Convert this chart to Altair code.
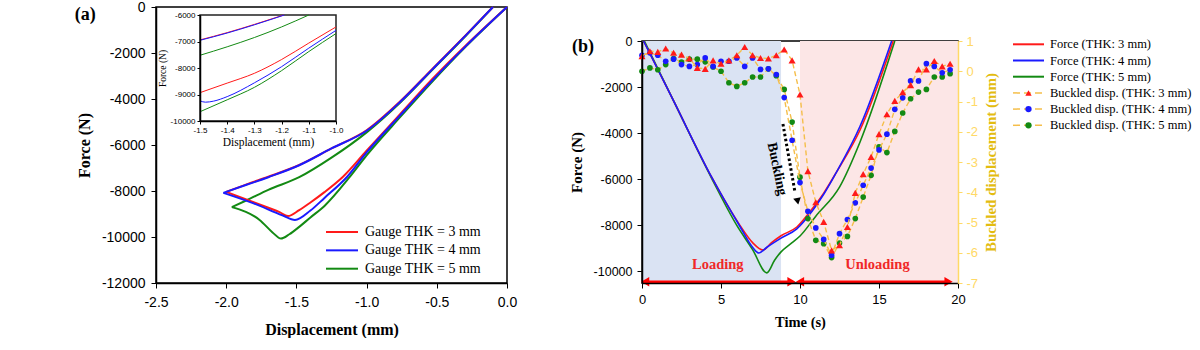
import altair as alt
import pandas as pd

SERIF = "Liberation Serif"
SANS = "Liberation Sans"
RED, BLUE, GREEN = "#FF1A1A", "#1A1AFF", "#138A13"
GOLD_LINE = "#F5BE4A"
GOLD_AXIS = "#FFD966"
GOLD_TITLE = "#E3BC10"

# ---------------- panel (a): force vs displacement loops ----------------
A_LABELS = ["Gauge THK = 3 mm", "Gauge THK = 4 mm", "Gauge THK = 5 mm"]
A_COLORS = [RED, BLUE, GREEN]

A3_LO_D = [0, -0.29, -0.53, -0.76, -1.0, -1.17, -1.3, -1.4, -1.48, -1.56, -1.62, -1.8, -2.0]
A3_LO_F = [0, -1650, -3120, -4650, -6250, -7390, -8050, -8500, -8830, -9090, -8920, -8500, -8040]
A3_UP_D = [-2.0, -1.85, -1.7, -1.48, -1.25, -1.0, -0.76, -0.53, -0.29, -0.1]
A3_UP_F = [-8040, -7700, -7380, -6870, -6150, -5360, -4100, -2680, -1200, 0]

A4_LO_D = [0, -0.29, -0.53, -0.76, -1.0, -1.14, -1.3, -1.4, -1.51, -1.6, -1.8, -2.02]
A4_LO_F = [0, -1680, -3180, -4700, -6320, -7390, -8300, -8850, -9260, -9060, -8550, -8080]
A4_UP_D = [-2.02, -1.85, -1.7, -1.48, -1.25, -1.0, -0.76, -0.53, -0.29, -0.1]
A4_UP_F = [-8080, -7720, -7400, -6880, -6150, -5380, -4120, -2700, -1210, 0]

A5_LO_D = [0, -0.29, -0.53, -0.76, -1.0, -1.12, -1.3, -1.4, -1.48, -1.55, -1.61, -1.67, -1.76, -1.96]
A5_LO_F = [0, -1700, -3230, -4780, -6450, -7390, -8650, -9150, -9560, -9880, -10070, -9800, -9270, -8700]
A5_UP_D = [-1.96, -1.85, -1.7, -1.48, -1.25, -1.0, -0.76, -0.53, -0.29, -0.1]
A5_UP_F = [-8700, -8390, -7950, -7400, -6550, -5450, -4150, -2720, -1230, 0]

# inset (zoom of -1.5 .. -1.0 mm)
I3_LO_D = [-1.5, -1.4, -1.3, -1.2, -1.1, -1.0]
I3_LO_F = [-8930, -8570, -8200, -7680, -7060, -6450]
I4_LO_D = [-1.5, -1.48, -1.45, -1.4, -1.3, -1.2, -1.1, -1.0]
I4_LO_F = [-9240, -9290, -9250, -9080, -8560, -7950, -7250, -6580]
I5_LO_D = [-1.5, -1.4, -1.3, -1.2, -1.1, -1.0]
I5_LO_F = [-9650, -9200, -8730, -8100, -7380, -6700]
I3_UP_D = [-1.5, -1.4, -1.3, -1.192]
I3_UP_F = [-6940, -6665, -6355, -6000]
I4_UP_D = [-1.5, -1.4, -1.3, -1.19]
I4_UP_F = [-6955, -6680, -6370, -6000]
I5_UP_D = [-1.5, -1.4, -1.3, -1.2, -1.1]
I5_UP_F = [-7520, -7200, -6850, -6450, -6000]

# ---------------- panel (b): force & buckled displacement vs time ----------------
B3_T = [0.1, 2.0, 4.4, 6.2, 7.0, 7.66, 8.2, 8.8, 9.8, 10.75, 11.5, 12.3, 13.8, 15.9]
B3_F = [0, -2600, -5900, -8000, -8750, -9070, -8750, -8450, -8070, -7300, -6600, -5700, -3860, 0]
B4_T = [0.1, 2.0, 4.4, 6.2, 7.0, 7.4, 7.9, 8.8, 9.8, 10.75, 11.5, 12.3, 13.8, 15.8]
B4_F = [0, -2600, -5900, -8050, -8950, -9200, -8950, -8550, -8150, -7400, -6650, -5700, -3700, 0]
B5_T = [0.15, 2.0, 4.4, 6.0, 7.0, 7.9, 8.4, 8.8, 9.5, 10.0, 11.0, 12.5, 13.8, 16.0]
B5_F = [0, -2600, -5950, -8000, -9050, -10060, -9500, -9150, -8750, -8460, -7600, -6340, -4380, 0]

BD_T = [0, 0.5, 1, 1.5, 2, 2.5, 3, 3.5, 4, 4.5, 5, 5.5, 6, 6.5, 7, 7.5, 8, 8.5, 9, 9.5,
        10, 10.5, 11, 11.5, 12, 12.5, 13, 13.5, 14, 14.5, 15, 15.5, 16, 16.5, 17, 17.5, 18, 18.5, 19, 19.5]
BD3 = [0.5, 0.66, 0.64, 0.75, 0.61, 0.55, 0.42, 0.11, 0.08, 0.36, 0.25, 0.36, 0.53, 0.80, 0.53, 0.44, 0.42, 0.53, 0.72, 0.36,
       -0.77, -3.3, -4.33, -4.98, -5.92, -5.75, -5.15, -4.02, -3.4, -2.83, -2.08, -1.42, -0.98, -0.69, -0.46, 0.06, 0.06, 0.34, 0.16, 0.25]
BD4 = [0.53, 0.61, 0.53, 0.33, 0.40, 0.22, 0.16, 0.22, 0.44, 0.16, 0.33, 0.33, 0.44, 0.16, 0.44, 0.06, 0.08, -0.11, -0.87, -2.28,
       -3.68, -4.63, -5.18, -5.56, -6.08, -5.37, -4.9, -4.35, -3.77, -3.2, -2.6, -2.08, -1.26, -0.88, -0.32, -0.32, 0.25, 0.16, -0.05, 0.05]
BD5 = [0.0, 0.11, 0.05, 0.22, 0.42, 0.30, 0.40, 0.40, 0.31, 0.14, 0.0, -0.38, -0.5, -0.38, -0.19, -0.19, 0.08, -0.15, -0.6, -1.68,
       -3.5, -4.87, -5.59, -5.7, -6.16, -5.68, -5.46, -4.87, -4.16, -3.44, -2.5, -2.69, -1.99, -1.38, -0.91, -0.69, -0.6, -0.19, -0.19, -0.08]

SHADE_T0 = [0, 10]
SHADE_T1 = [8.8, 20]
SHADE_COLORS = ["#DAE3F3", "#FCE6E6"]

PHASE_LABELS = ["Loading", "Unloading"]
PHASE_T = [4.8, 14.9]
PHASE_F = [-9720, -9720]
ARROW_T0 = [0.2, 10.0]
ARROW_T1 = [9.46, 19.4]
ARROW_HEAD_T = [0.2, 9.46, 10.0, 19.4]
ARROW_HEAD_SHAPE = ["triangle-left", "triangle-right", "triangle-left", "triangle-right"]
ARROW_F = -10450

BUCK_TEXT_T, BUCK_TEXT_F = 8.54, -5554
BUCK_ARROW_T = [8.92, 9.68]
BUCK_ARROW_F = [-3600, -6550]
BUCK_HEAD_T, BUCK_HEAD_F = 9.85, -6950

# panel tags, placed in each panel's data coordinates (left of the y axis)
TAG_A = ("(a)", -3.079, -350)
TAG_B = ("(b)", -4.43, -260)

LEG_B = ["Force (THK: 3 mm)", "Force (THK: 4 mm)", "Force (THK: 5 mm)",
         "Buckled disp. (THK: 3 mm)", "Buckled disp. (THK: 4 mm)", "Buckled disp. (THK: 5 mm)"]

NEG_INT = "(datum.value < 0 ? '-' : '') + format(abs(datum.value), 'd')"
NEG_1F = "(datum.value < 0 ? '-' : '') + format(abs(datum.value), '.1f')"


def axis(**kw):
    base = dict(grid=False, domainColor="black", tickColor="black", labelColor="black",
                titleColor="black", labelFont=SANS, titleFont=SERIF, titleFontWeight="bold",
                labelFlush=False, labelOverlap=False, zindex=1, domainWidth=1.5, tickWidth=1)
    base.update(kw)
    return alt.Axis(**base)


def tag_text(tag, xs, ys, ax_x, ax_y, xfield):
    df = pd.DataFrame({xfield: [tag[1]], "f": [tag[2]], "label": [tag[0]]})
    return alt.Chart(df).mark_text(align="left", baseline="middle", font=SERIF, fontSize=18,
                                   fontWeight="bold", color="black").encode(
        x=alt.X(f"{xfield}:Q", scale=xs, axis=ax_x), y=alt.Y("f:Q", scale=ys, axis=ax_y), text="label:N")


# ======== panel (a) ========
AW, AH = 351, 276
XA = alt.Scale(domain=[-2.5, 0], nice=False, zero=False)
YA = alt.Scale(domain=[-12000, 0], nice=False, zero=False)
AX_AX = axis(title="Displacement (mm)", values=[-2.5, -2.0, -1.5, -1.0, -0.5, 0.0], labelExpr=NEG_1F,
             labelFontSize=14, titleFontSize=16, tickSize=5, labelPadding=7, titlePadding=12)
AX_AY = axis(title="Force (N)", values=[-12000, -10000, -8000, -6000, -4000, -2000, 0], labelExpr=NEG_INT,
             labelFontSize=14, titleFontSize=16, tickSize=5, labelPadding=6, titlePadding=9)


def loop_df(lo_d, lo_f, up_d, up_f):
    return pd.DataFrame({"d": lo_d + up_d, "f": lo_f + up_f,
                         "part": ["lo"] * len(lo_d) + ["up"] * len(up_d)})


def a_line(df, color, xs, ys, ax_x, ax_y, width):
    return alt.Chart(df).mark_line(color=color, strokeWidth=width, interpolate="monotone").encode(
        x=alt.X("d:Q", scale=xs, axis=ax_x), y=alt.Y("f:Q", scale=ys, axis=ax_y), detail="part:N")


main_a = alt.layer(
    a_line(loop_df(A5_LO_D, A5_LO_F, A5_UP_D, A5_UP_F), GREEN, XA, YA, AX_AX, AX_AY, 2),
    a_line(loop_df(A3_LO_D, A3_LO_F, A3_UP_D, A3_UP_F), RED, XA, YA, AX_AX, AX_AY, 2),
    a_line(loop_df(A4_LO_D, A4_LO_F, A4_UP_D, A4_UP_F), BLUE, XA, YA, AX_AX, AX_AY, 2),
    tag_text(TAG_A, XA, YA, AX_AX, AX_AY, "d"),
)

XI = alt.Scale(domain=[-1.5, -1.0], range=[44, 180], nice=False, zero=False)
YI = alt.Scale(domain=[-10000, -6000], range=[114, 8], nice=False, zero=False)
AX_IX = axis(title="Displacement (mm)", orient="bottom", offset=-162,
             values=[-1.5, -1.4, -1.3, -1.2, -1.1, -1.0], labelExpr=NEG_1F,
             labelFontSize=8, titleFontSize=11.5, titleFontWeight="normal", tickSize=3,
             labelPadding=2, titlePadding=2)
AX_IY = axis(title="Force (N)", orient="left", offset=-44,
             values=[-10000, -9000, -8000, -7000, -6000], labelExpr=NEG_INT,
             labelFontSize=8, titleFontSize=9.5, titleFontWeight="normal", tickSize=3,
             labelPadding=2, titlePadding=3)

frame_df = pd.DataFrame({"d0": [-1.5], "d1": [-1.0], "f0": [-10000], "f1": [-6000]})
inset_frame = alt.Chart(frame_df).mark_rect(fill="white", stroke="#222222", strokeWidth=1.5).encode(
    x=alt.X("d0:Q", scale=XI, axis=AX_IX), x2="d1:Q",
    y=alt.Y("f0:Q", scale=YI, axis=AX_IY), y2="f1:Q")

inset_a = alt.layer(
    inset_frame,
    a_line(loop_df(I5_LO_D, I5_LO_F, I5_UP_D, I5_UP_F), GREEN, XI, YI, AX_IX, AX_IY, 1),
    a_line(loop_df(I3_LO_D, I3_LO_F, I3_UP_D, I3_UP_F), RED, XI, YI, AX_IX, AX_IY, 1),
    a_line(loop_df(I4_LO_D, I4_LO_F, I4_UP_D, I4_UP_F), BLUE, XI, YI, AX_IX, AX_IY, 1),
)

leg_a_df = pd.DataFrame({"label": A_LABELS, "x0": [0, 0, 0], "x1": [1, 1, 1], "c": A_COLORS})
LXA = alt.Scale(domain=[0, 1], range=[170, 202], nice=False, zero=False)
LYA = alt.Scale(type="point", domain=A_LABELS, range=[225, 261.7], padding=0)
legend_a = alt.layer(
    alt.Chart(leg_a_df).mark_rule(strokeWidth=2).encode(
        x=alt.X("x0:Q", scale=LXA, axis=None), x2="x1:Q",
        y=alt.Y("label:N", scale=LYA, axis=None), color=alt.Color("c:N", scale=None)),
    alt.Chart(leg_a_df).mark_text(align="left", baseline="middle", dx=7, font=SERIF, fontSize=14,
                                  color="black").encode(
        x=alt.X("x1:Q", scale=LXA, axis=None), y=alt.Y("label:N", scale=LYA, axis=None), text="label:N"),
)

panel_a = alt.layer(main_a, inset_a, legend_a).resolve_scale(
    x="independent", y="independent").properties(width=AW, height=AH)

# ======== panel (b) ========
BW, BH = 316, 242
XB = alt.Scale(domain=[0, 20], nice=False, zero=False)
YB = alt.Scale(domain=[-10500, 0], nice=False, zero=False)
YB2 = alt.Scale(domain=[-7, 1], nice=False, zero=False)
AX_BX = axis(title="Time (s)", values=[0, 5, 10, 15, 20], labelFontSize=13, titleFontSize=14.5,
             tickSize=5, labelPadding=5, titlePadding=9)
AX_BY = axis(title="Force (N)", values=[-10000, -8000, -6000, -4000, -2000, 0], labelExpr=NEG_INT,
             labelFontSize=12.5, titleFontSize=15, tickSize=5, labelPadding=5, titlePadding=9)
AX_BR = axis(title="Buckled displacement (mm)", orient="right", values=[-7, -6, -5, -4, -3, -2, -1, 0, 1],
             labelExpr=NEG_INT, domainColor=GOLD_AXIS, tickColor=GOLD_AXIS, labelColor=GOLD_AXIS,
             titleColor=GOLD_TITLE, labelFontSize=13, titleFontSize=15, tickSize=4, labelPadding=4,
             titlePadding=6, titleAngle=270, titleAlign="center", titleBaseline="top")

shade_df = pd.DataFrame({"t0": SHADE_T0, "t1": SHADE_T1, "f0": [-10500, -10500], "f1": [0, 0], "c": SHADE_COLORS})
shade = alt.Chart(shade_df).mark_rect().encode(
    x=alt.X("t0:Q", scale=XB, axis=AX_BX), x2="t1:Q",
    y=alt.Y("f0:Q", scale=YB, axis=AX_BY), y2="f1:Q", color=alt.Color("c:N", scale=None))


def b_force(ts, fs, color):
    df = pd.DataFrame({"t": ts, "f": fs})
    return alt.Chart(df).mark_line(color=color, strokeWidth=1.6, interpolate="monotone").encode(
        x=alt.X("t:Q", scale=XB, axis=AX_BX), y=alt.Y("f:Q", scale=YB, axis=AX_BY))


arrow_df = pd.DataFrame({"t0": ARROW_T0, "t1": ARROW_T1, "f": [ARROW_F, ARROW_F]})
arrows = alt.Chart(arrow_df).mark_rule(color="#FF0000", strokeWidth=2.5).encode(
    x=alt.X("t0:Q", scale=XB, axis=AX_BX), x2="t1:Q", y=alt.Y("f:Q", scale=YB, axis=AX_BY))
head_df = pd.DataFrame({"t": ARROW_HEAD_T, "f": [ARROW_F] * 4, "s": ARROW_HEAD_SHAPE})
heads = alt.Chart(head_df).mark_point(filled=True, opacity=1, size=90, color="#FF0000").encode(
    x=alt.X("t:Q", scale=XB, axis=AX_BX), y=alt.Y("f:Q", scale=YB, axis=AX_BY),
    shape=alt.Shape("s:N", scale=None))
phase_df = pd.DataFrame({"t": PHASE_T, "f": PHASE_F, "label": PHASE_LABELS})
phase_text = alt.Chart(phase_df).mark_text(font=SERIF, fontSize=14.5, fontWeight="bold", color="#F02828").encode(
    x=alt.X("t:Q", scale=XB, axis=AX_BX), y=alt.Y("f:Q", scale=YB, axis=AX_BY), text="label:N")

buck_df = pd.DataFrame({"t": [BUCK_TEXT_T], "f": [BUCK_TEXT_F], "label": ["Buckling"]})
buck_text = alt.Chart(buck_df).mark_text(font=SERIF, fontSize=14, fontWeight="bold", color="black", angle=78).encode(
    x=alt.X("t:Q", scale=XB, axis=AX_BX), y=alt.Y("f:Q", scale=YB, axis=AX_BY), text="label:N")
buck_arrow_df = pd.DataFrame({"t0": [BUCK_ARROW_T[0]], "t1": [BUCK_ARROW_T[1]],
                              "f0": [BUCK_ARROW_F[0]], "f1": [BUCK_ARROW_F[1]]})
buck_arrow = alt.Chart(buck_arrow_df).mark_rule(color="black", strokeWidth=3, strokeDash=[2.5, 2.5]).encode(
    x=alt.X("t0:Q", scale=XB, axis=AX_BX), x2="t1:Q", y=alt.Y("f0:Q", scale=YB, axis=AX_BY), y2="f1:Q")
buck_head_df = pd.DataFrame({"t": [BUCK_HEAD_T], "f": [BUCK_HEAD_F]})
buck_head = alt.Chart(buck_head_df).mark_point(shape="triangle-down", filled=True, opacity=1, size=60,
                                               color="black", angle=349).encode(
    x=alt.X("t:Q", scale=XB, axis=AX_BX), y=alt.Y("f:Q", scale=YB, axis=AX_BY))

group1 = alt.layer(shade, b_force(B5_T, B5_F, GREEN), b_force(B3_T, B3_F, RED), b_force(B4_T, B4_F, BLUE),
                   arrows, heads, phase_text, buck_arrow, buck_head, buck_text,
                   tag_text(TAG_B, XB, YB, AX_BX, AX_BY, "t"))


def b_disp(vals, color, shape, size):
    df = pd.DataFrame({"t": BD_T, "v": vals})
    line = alt.Chart(df).mark_line(color=GOLD_LINE, strokeWidth=1.4, strokeDash=[5, 3]).encode(
        x=alt.X("t:Q", scale=XB, axis=AX_BX), y=alt.Y("v:Q", scale=YB2, axis=AX_BR))
    pts = alt.Chart(df).mark_point(shape=shape, filled=True, opacity=1, size=size, color=color).encode(
        x=alt.X("t:Q", scale=XB, axis=AX_BX), y=alt.Y("v:Q", scale=YB2, axis=AX_BR))
    return [line, pts]


group2 = alt.layer(*(b_disp(BD5, GREEN, "circle", 32) + b_disp(BD4, BLUE, "circle", 32)
                     + b_disp(BD3, RED, "triangle-up", 50)))

inner_b = alt.layer(group1, group2).resolve_scale(y="independent")

leg_b_df = pd.DataFrame({"label": LEG_B, "x0": [0] * 6, "x1": [1] * 6, "xm": [0.5] * 6,
                         "c": [RED, BLUE, GREEN, GOLD_LINE, GOLD_LINE, GOLD_LINE],
                         "mc": [RED, BLUE, GREEN, RED, BLUE, GREEN],
                         "ms": ["circle", "circle", "circle", "triangle-up", "circle", "circle"],
                         "kind": ["f", "f", "f", "b", "b", "b"]})
LXB = alt.Scale(domain=[0, 1], range=[371, 402], nice=False, zero=False)
LYB = alt.Scale(type="point", domain=LEG_B, range=[3.3, 84.3], padding=0)
leg_f = leg_b_df[leg_b_df.kind == "f"]
leg_d = leg_b_df[leg_b_df.kind == "b"]
legend_b = alt.layer(
    alt.Chart(leg_f).mark_rule(strokeWidth=2).encode(
        x=alt.X("x0:Q", scale=LXB, axis=None), x2="x1:Q",
        y=alt.Y("label:N", scale=LYB, axis=None), color=alt.Color("c:N", scale=None)),
    alt.Chart(leg_d).mark_rule(strokeWidth=1.5, strokeDash=[7, 4]).encode(
        x=alt.X("x0:Q", scale=LXB, axis=None), x2="x1:Q",
        y=alt.Y("label:N", scale=LYB, axis=None), color=alt.Color("c:N", scale=None)),
    alt.Chart(leg_d).mark_point(filled=True, opacity=1, size=40).encode(
        x=alt.X("xm:Q", scale=LXB, axis=None), y=alt.Y("label:N", scale=LYB, axis=None),
        color=alt.Color("mc:N", scale=None), shape=alt.Shape("ms:N", scale=None)),
    alt.Chart(leg_b_df).mark_text(align="left", baseline="middle", dx=6, font=SERIF, fontSize=12.5,
                                  color="black").encode(
        x=alt.X("x1:Q", scale=LXB, axis=None), y=alt.Y("label:N", scale=LYB, axis=None), text="label:N"),
)

panel_b = alt.layer(inner_b, legend_b).resolve_scale(x="independent", y="independent").properties(
    width=BW, height=BH)

spacer = alt.Chart(pd.DataFrame({"z": [0]})).mark_point(opacity=0).encode(
    x=alt.X("z:Q", axis=None), y=alt.Y("z:Q", axis=None)).properties(
    width=10, height=26, view=alt.ViewBackground(stroke="transparent"))

chart = alt.hconcat(panel_a, alt.vconcat(spacer, panel_b, spacing=0), spacing=50).properties(
    padding={"left": 73, "top": -1, "right": 0, "bottom": 0}
).configure_view(stroke="black", strokeWidth=1.5)

chart.save("out.html", embed_options={"renderer": "svg", "actions": False})
